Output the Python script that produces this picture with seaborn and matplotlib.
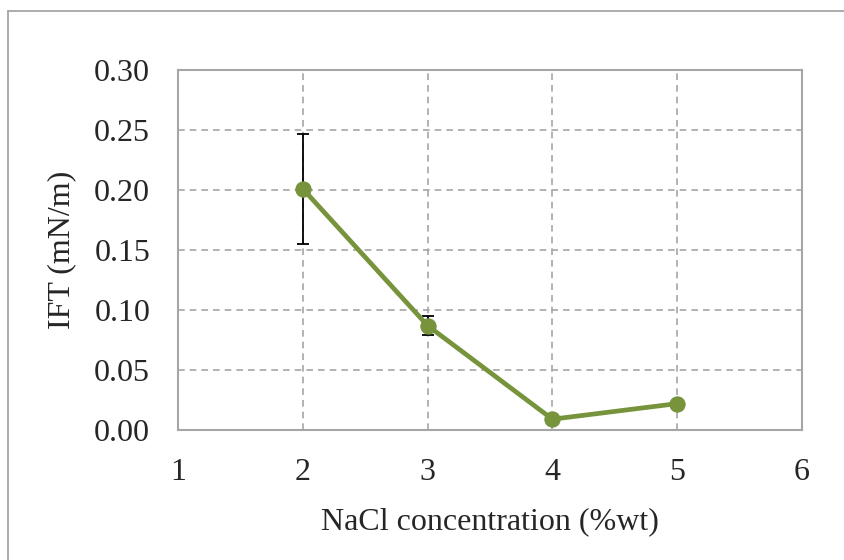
import matplotlib
matplotlib.use("Agg")
import matplotlib.pyplot as plt
import seaborn as sns
import pandas as pd
from matplotlib.lines import Line2D

# Data
nacl = [2, 3, 4, 5]
ift = [0.201, 0.087, 0.009, 0.022]
ift_err = [0.046, 0.008, 0.001, 0.001]

df = pd.DataFrame({"NaCl": nacl, "IFT": ift, "err": ift_err})

sns.set_style("white")
plt.rcParams["font.family"] = ["Liberation Serif", "DejaVu Serif"]

fig = plt.figure(figsize=(8.45, 5.6), dpi=100)
ax = fig.add_axes([178 / 845, 1 - 430 / 560, (802 - 178) / 845, 360 / 560])

green = "#77933C"
ax.errorbar(df["NaCl"], df["IFT"], yerr=df["err"], fmt="none",
            ecolor="black", elinewidth=1.3, capsize=4.5, capthick=1.3, zorder=2)
sns.lineplot(data=df, x="NaCl", y="IFT", ax=ax, color=green, linewidth=3.4,
             marker="o", markersize=11, markeredgecolor=green, zorder=3)

ax.set_xlim(1, 6)
ax.set_ylim(0, 0.30)
ax.set_xticks([1, 2, 3, 4, 5, 6])
yt = [0.0, 0.05, 0.10, 0.15, 0.20, 0.25, 0.30]
ax.set_yticks(yt)
ax.set_yticklabels([f"{v:.2f}" for v in yt])
ax.tick_params(axis="both", labelsize=23, length=0, pad=20)

ax.grid(True, color="#A6A6A6", linestyle=(0, (4, 3)), linewidth=1.2)
ax.set_axisbelow(True)
for s in ax.spines.values():
    s.set_color("#A6A6A6")
    s.set_linewidth(1.5)

ax.set_xlabel("NaCl concentration (%wt)", fontsize=23, labelpad=15)
ax.set_ylabel("IFT (mN/m)", fontsize=23, labelpad=13)

# outer chart border (left and top only visible)
fig.add_artist(Line2D([8 / 845, 8 / 845], [0, 1 - 11 / 560], color="#A6A6A6", lw=1.3))
fig.add_artist(Line2D([8 / 845, 1], [1 - 11 / 560, 1 - 11 / 560], color="#A6A6A6", lw=1.3))

fig.savefig("out.png", dpi=100)
